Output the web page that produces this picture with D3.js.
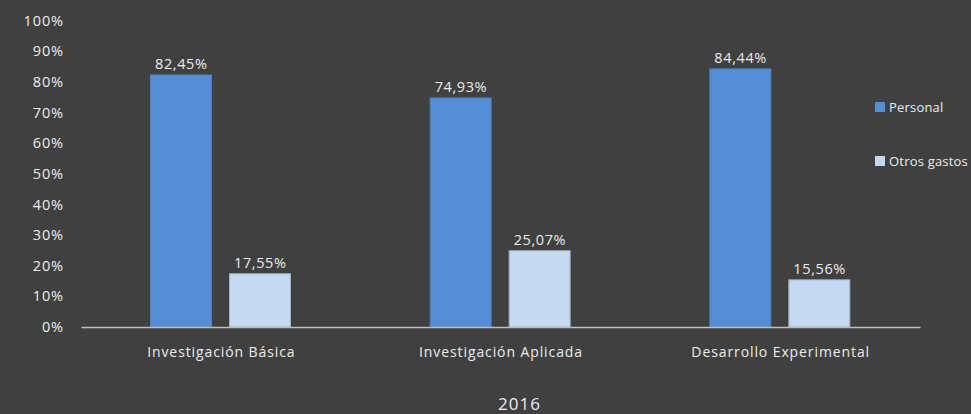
<!DOCTYPE html>
<html>
<head>
<meta charset="utf-8">
<script src="https://cdn.jsdelivr.net/npm/d3@7"></script>
<style>
  html, body { margin: 0; padding: 0; background: #404040; }
  text { font-family: "Open Sans", Lato, sans-serif; fill: #ececec; }
</style>
</head>
<body>
<div id="viz_chart"></div>
<script>
// data
const categories = ["Investigación Básica", "Investigación Aplicada", "Desarrollo Experimental"];
const seriesNames = ["Personal", "Otros gastos"];
const personal = [82.45, 74.93, 84.44];
const otrosGastos = [17.55, 25.07, 15.56];
const yTicks = [0, 10, 20, 30, 40, 50, 60, 70, 80, 90, 100];
const chartTitle = "2016";

const width = 971, height = 414;
const colors = ["#558ed5", "#c6d9f1"];
const strokes = ["#4d80c0", "#9fb0c4"];

const svg = d3.select("#viz_chart").append("svg")
    .attr("width", width)
    .attr("height", height)
    .style("display", "block")
    .style("background", "#404040");

const x = d3.scaleBand().domain(categories).range([81, 920]).paddingInner(0).paddingOuter(0);
const xSub = d3.scaleBand().domain(seriesNames).range([69, 210]).paddingInner(0.215);
const y = d3.scaleLinear().domain([0, 100]).range([327, 20.7]);

const fmt = v => d3.format(".2f")(v).replace(".", ",") + "%";

// y tick labels (no axis line, no gridlines)
svg.append("g").selectAll("text")
    .data(yTicks)
    .join("text")
    .attr("x", 64)
    .attr("y", d => y(d))
    .attr("dy", "0.35em")
    .attr("text-anchor", "end")
    .style("font-size", "14.5px")
    .style("letter-spacing", "0.9px")
    .text(d => d + "%");

const rows = categories.map((c, i) => ({cat: c, values: [personal[i], otrosGastos[i]]}));

const groups = svg.append("g").selectAll("g")
    .data(rows)
    .join("g")
    .attr("transform", d => `translate(${x(d.cat)},0)`);

groups.selectAll("rect")
    .data(d => d.values.map((v, j) => ({key: seriesNames[j], value: v, j: j})))
    .join("rect")
    .attr("x", d => xSub(d.key) + 0.5)
    .attr("y", d => y(d.value) + 0.5)
    .attr("width", xSub.bandwidth() - 1)
    .attr("height", d => y(0) - y(d.value) - 0.5)
    .attr("fill", d => colors[d.j])
    .attr("stroke", d => strokes[d.j])
    .attr("stroke-width", 1);

groups.selectAll("text.val")
    .data(d => d.values.map((v, j) => ({key: seriesNames[j], value: v, j: j})))
    .join("text")
    .attr("class", "val")
    .attr("x", d => xSub(d.key) + xSub.bandwidth() / 2 + 0.3)
    .attr("y", d => y(d.value) - 5)
    .attr("text-anchor", "middle")
    .style("font-size", "14.5px")
    .style("letter-spacing", "0.6px")
    .text(d => fmt(d.value));

// x axis
const xAxis = d3.axisBottom(x).tickSize(0).tickPadding(0);
const gx = svg.append("g").attr("transform", `translate(0,${y(0)})`).call(xAxis);
gx.select(".domain").attr("stroke", "#bfbfbf").attr("stroke-width", 1.5);
gx.selectAll(".tick text")
    .attr("dy", 0)
    .attr("x", 0.5)
    .attr("y", 30)
    .style("font-size", "14px")
    .style("letter-spacing", "0.9px")
    .style("font-family", "'Open Sans', sans-serif")
    .attr("fill", "#ececec");

// legend
const legend = svg.append("g").selectAll("g")
    .data(seriesNames)
    .join("g")
    .attr("transform", (d, i) => `translate(875,${107 + i * 54})`);
legend.append("rect")
    .attr("x", 0).attr("y", -5)
    .attr("width", 10).attr("height", 10)
    .attr("fill", (d, i) => colors[i]);
legend.append("text")
    .attr("x", 14)
    .attr("dy", "0.35em")
    .style("font-size", "13px")
    .style("letter-spacing", "0.2px")
    .text(d => d);

// title at bottom
svg.append("text")
    .attr("x", 519.5)
    .attr("y", 410)
    .attr("text-anchor", "middle")
    .style("font-size", "17px")
    .style("letter-spacing", "1px")
    .text(chartTitle);
</script>
</body>
</html>
